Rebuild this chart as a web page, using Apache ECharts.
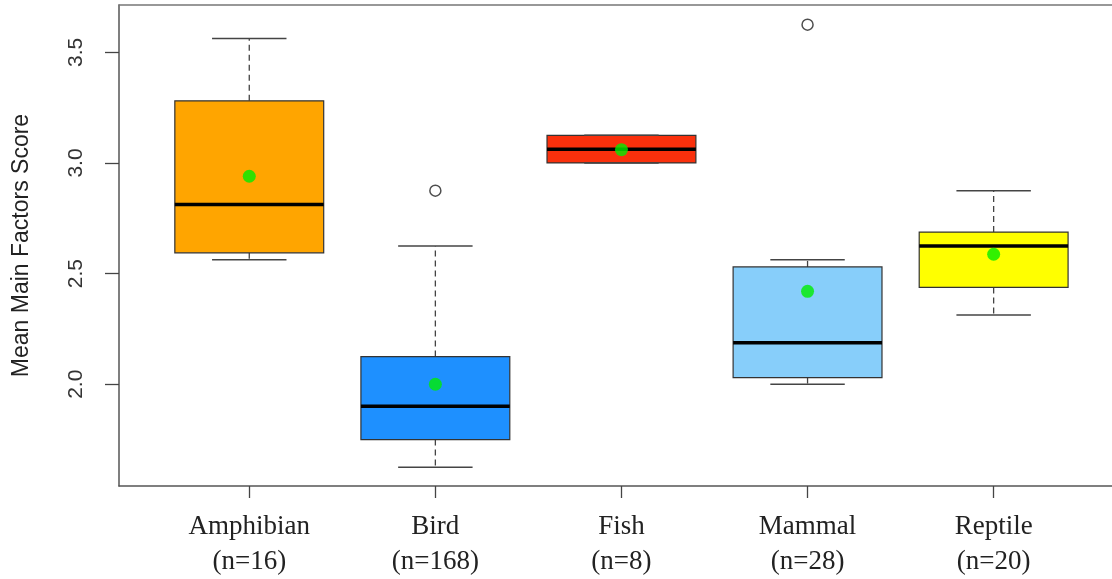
<!DOCTYPE html>
<html>
<head>
<meta charset="utf-8">
<script src="https://cdn.jsdelivr.net/npm/echarts@6/dist/echarts.min.js"></script>
<style>
  html, body { margin: 0; padding: 0; background: #fff; }
  #chart { width: 1112px; height: 579px; }
</style>
</head>
<body>
<div id="chart"></div>
<script>
// Groups and their sample sizes
const categories = ['Amphibian', 'Bird', 'Fish', 'Mammal', 'Reptile'];
const sampleSizes = [16, 168, 8, 28, 20];

// Five-number summaries per group
const lowerWhisker = [2.5625, 1.625, 3.0, 2.0, 2.3125];
const q1 = [2.594, 1.75, 3.0, 2.03, 2.4375];
const median = [2.8125, 1.90, 3.0625, 2.1875, 2.625];
const q3 = [3.281, 2.125, 3.125, 2.53, 2.6875];
const upperWhisker = [3.5625, 2.625, 3.125, 2.5625, 2.875];

// Group means (green dots) and outliers (open circles)
const means = [2.94, 2.0, 3.06, 2.42, 2.5875];
const outliers = [[2, 2.875], [4, 3.625]];

// Fill colour for each box
const boxColors = ['#FFA500', '#1E90FF', '#FA300C', '#87CEFA', '#FFFF00'];

// Y-axis tick values
const yTicks = [2.0, 2.5, 3.0, 3.5];

const positions = categories.map((c, i) => i + 1);

const boxData = positions.map((x, i) => [x, lowerWhisker[i], q1[i], median[i], q3[i], upperWhisker[i], i]);
const meanData = positions.map((x, i) => [x, means[i]]);

function renderBox(params, api) {
  const x = api.value(0);
  const idx = api.value(6);
  const lo = api.coord([x, api.value(1)]);
  const b1 = api.coord([x, api.value(2)]);
  const md = api.coord([x, api.value(3)]);
  const b3 = api.coord([x, api.value(4)]);
  const hi = api.coord([x, api.value(5)]);
  const boxW = api.size([0.8, 0])[0];
  const capW = api.size([0.4, 0])[0];
  const cx = lo[0];
  const whiskerStyle = { stroke: '#444', lineWidth: 1.3, lineDash: [6, 4] };
  const capStyle = { stroke: '#444', lineWidth: 1.5 };
  const children = [];
  if (hi[1] < b3[1]) {
    children.push({ type: 'line', shape: { x1: cx, y1: b3[1], x2: cx, y2: hi[1] }, style: whiskerStyle });
  }
  if (lo[1] > b1[1]) {
    children.push({ type: 'line', shape: { x1: cx, y1: b1[1], x2: cx, y2: lo[1] }, style: whiskerStyle });
  }
  children.push({
    type: 'rect',
    shape: { x: cx - boxW / 2, y: b3[1], width: boxW, height: b1[1] - b3[1] },
    style: { fill: boxColors[idx], stroke: '#333', lineWidth: 1.2 }
  });
  children.push({ type: 'line', shape: { x1: cx - capW / 2, y1: hi[1], x2: cx + capW / 2, y2: hi[1] }, style: capStyle });
  children.push({ type: 'line', shape: { x1: cx - capW / 2, y1: lo[1], x2: cx + capW / 2, y2: lo[1] }, style: capStyle });
  children.push({
    type: 'line',
    shape: { x1: cx - boxW / 2, y1: md[1], x2: cx + boxW / 2, y2: md[1] },
    style: { stroke: '#000', lineWidth: 3.5 }
  });
  return { type: 'group', children: children };
}

const chart = echarts.init(document.getElementById('chart'), null, { renderer: 'canvas' });

// The plot frame runs past the right edge of the page, so only the
// left, top and bottom sides are drawn (as axis lines).
chart.setOption({
  animation: false,
  backgroundColor: '#fff',
  grid: {
    left: 119,
    top: 5,
    right: 0,
    height: 481,
    show: false,
    containLabel: false
  },
  xAxis: [
    {
      type: 'value',
      min: 0.3,
      max: 5.636,
      splitLine: { show: false },
      axisLine: { show: true, onZero: false, lineStyle: { color: '#555', width: 1.5 } },
      axisTick: {
        show: true,
        length: 12,
        customValues: positions,
        lineStyle: { color: '#444', width: 1.3 }
      },
      axisLabel: {
        customValues: positions,
        margin: 23,
        fontFamily: 'Liberation Serif',
        fontSize: 27,
        lineHeight: 35,
        color: '#222',
        formatter: function (v) {
          const i = Math.round(v) - 1;
          return categories[i] + '\n(n=' + sampleSizes[i] + ')';
        }
      }
    },
    {
      type: 'value',
      position: 'top',
      min: 0.3,
      max: 5.636,
      splitLine: { show: false },
      axisLine: { show: true, onZero: false, lineStyle: { color: '#777', width: 1.5 } },
      axisTick: { show: false },
      axisLabel: { show: false }
    }
  ],
  yAxis: {
    type: 'value',
    min: 1.54,
    max: 3.714,
    name: 'Mean Main Factors Score',
    nameLocation: 'middle',
    nameRotate: 90,
    nameGap: 86,
    nameTextStyle: { fontFamily: 'Liberation Sans', fontSize: 23, color: '#222' },
    splitLine: { show: false },
    axisLine: { show: true, onZero: false, lineStyle: { color: '#555', width: 1.5 } },
    axisTick: {
      show: true,
      length: 14,
      customValues: yTicks,
      lineStyle: { color: '#444', width: 1.3 }
    },
    axisLabel: {
      customValues: yTicks,
      rotate: 90,
      margin: 32,
      fontFamily: 'Liberation Sans',
      fontSize: 21,
      color: '#333',
      formatter: function (v) { return v.toFixed(1); }
    }
  },
  series: [
    {
      type: 'custom',
      renderItem: renderBox,
      data: boxData,
      encode: { x: 0, y: [1, 2, 3, 4, 5] },
      z: 2
    },
    {
      type: 'scatter',
      data: outliers,
      symbol: 'circle',
      symbolSize: 11,
      itemStyle: { color: '#fff', borderColor: '#222', borderWidth: 1.5 },
      z: 3
    },
    {
      type: 'scatter',
      data: meanData,
      symbol: 'circle',
      symbolSize: 13,
      itemStyle: { color: '#00EE00' },
      z: 4
    }
  ]
});
</script>
</body>
</html>
